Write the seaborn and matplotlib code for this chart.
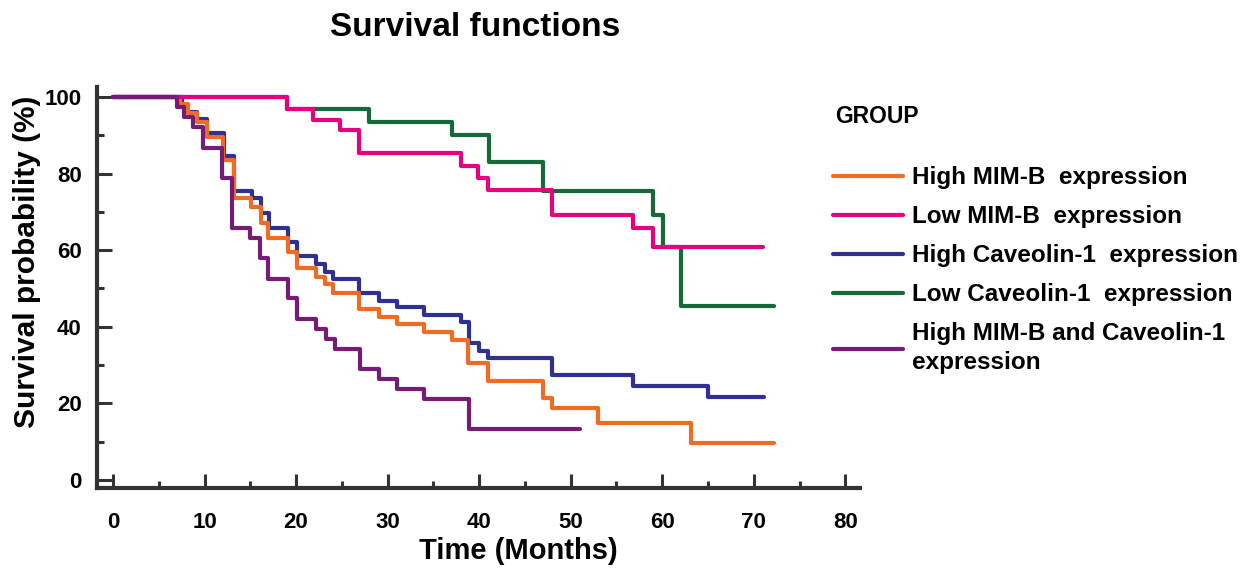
import pandas as pd
import matplotlib
matplotlib.use("Agg")
import matplotlib.pyplot as plt
import seaborn as sns
from matplotlib.ticker import MultipleLocator

# step points (time in months, survival in %)
high_mimb_t = [0, 7.3, 8.2, 9.2, 10.3, 12.0, 13.2, 15.1, 16.2, 16.9, 19.1, 20.1, 22.2, 23.2, 24.0,
               26.9, 29.1, 31.0, 34.0, 37.0, 38.8, 41.0, 47.0, 47.9, 53.0, 63.1, 72.2]
high_mimb_s = [100, 98.2, 95.8, 93.5, 89.6, 83.6, 73.6, 71.3, 67.1, 63.2, 59.5, 55.4, 53.0, 51.2, 48.8,
               44.6, 42.6, 40.7, 38.6, 36.6, 30.5, 25.9, 21.4, 18.8, 14.9, 9.7, 9.7]

low_mimb_t = [0, 19.0, 21.9, 24.8, 26.9, 38.0, 39.9, 41.0, 47.9, 56.8, 59.0, 71.0]
low_mimb_s = [100, 96.9, 94.0, 91.4, 85.4, 82.0, 78.9, 75.7, 69.2, 65.8, 60.8, 60.8]

high_cav_t = [0, 7.5, 8.1, 9.2, 10.3, 12.1, 13.2, 15.2, 16.2, 17.0, 19.1, 20.1, 22.2, 23.2, 24.0,
              26.9, 29.1, 31.0, 34.0, 38.0, 38.9, 40.0, 41.0, 47.9, 56.8, 65.0, 71.1]
high_cav_s = [100, 98.0, 96.0, 94.2, 90.6, 84.6, 75.5, 73.6, 69.7, 65.8, 62.1, 58.5, 56.4, 54.3, 52.5,
              48.8, 46.8, 45.2, 43.2, 41.2, 35.8, 33.7, 31.8, 27.4, 24.5, 21.7, 21.7]

low_cav_t = [0, 19.0, 28.0, 37.0, 41.1, 47.0, 59.0, 60.1, 62.1, 72.2]
low_cav_s = [100, 96.8, 93.4, 90.0, 82.9, 75.5, 69.2, 60.8, 45.4, 45.4]

both_t = [0, 7.0, 7.8, 8.7, 9.8, 11.9, 13.0, 15.0, 16.1, 16.9, 19.1, 20.1, 22.2, 23.3, 24.3,
          27.0, 29.1, 31.0, 34.0, 38.9, 51.0]
both_s = [100, 97.4, 94.7, 92.1, 86.8, 78.9, 65.8, 63.2, 57.9, 52.6, 47.4, 42.1, 39.5, 36.8, 34.2,
          28.9, 26.3, 23.7, 21.1, 13.2, 13.2]

groups = ["High MIM-B  expression", "Low MIM-B  expression", "High Caveolin-1  expression",
          "Low Caveolin-1  expression", "High MIM-B and Caveolin-1\nexpression"]
colors = ["#EF6C22", "#E6007E", "#2E3192", "#17693A", "#761C78"]

curves = [(high_mimb_t, high_mimb_s), (low_mimb_t, low_mimb_s), (high_cav_t, high_cav_s),
          (low_cav_t, low_cav_s), (both_t, both_s)]

rows = []
for g, (t, s) in zip(groups, curves):
    for a, b in zip(t, s):
        rows.append({"group": g, "time": a, "surv": b})
df = pd.DataFrame(rows)

sns.set_theme(style="white")
plt.rcParams["font.family"] = ["Liberation Sans", "DejaVu Sans"]
plt.rcParams["font.weight"] = "bold"
plt.rcParams["text.color"] = "black"
plt.rcParams["xtick.color"] = "black"
plt.rcParams["ytick.color"] = "black"
plt.rcParams["axes.labelcolor"] = "black"

fig = plt.figure(figsize=(12.5, 5.69), dpi=100)
ax = fig.add_axes([0.0776, 0.1424, 0.6104, 0.7046])

# draw order: green, blue, orange, pink, purple on top
zorders = {0: 4, 1: 5, 2: 3, 3: 2, 4: 6}
for i, g in enumerate(groups):
    sns.lineplot(data=df[df["group"] == g], x="time", y="surv", ax=ax, color=colors[i],
                 drawstyle="steps-post", estimator=None, linewidth=3.0, label=g,
                 zorder=zorders[i], legend=False)

ax.set_xlim(-1.75, 81.6)
ax.set_ylim(-2.1, 102.6)
ax.xaxis.set_major_locator(MultipleLocator(10))
ax.xaxis.set_minor_locator(MultipleLocator(5))
ax.yaxis.set_major_locator(MultipleLocator(20))
ax.yaxis.set_minor_locator(MultipleLocator(10))

for side in ["top", "right"]:
    ax.spines[side].set_visible(False)
for side in ["left", "bottom"]:
    ax.spines[side].set_color("#333333")
    ax.spines[side].set_linewidth(3)

ax.tick_params(axis="both", which="both", direction="in", color="#333333", width=2.2,
               bottom=True, left=True)
ax.tick_params(axis="y", which="major", length=11, pad=11, labelsize=16)
ax.tick_params(axis="y", which="minor", length=5)
ax.tick_params(axis="x", which="major", length=10, pad=17, labelsize=16)
ax.tick_params(axis="x", which="minor", length=5)
for lab in ax.get_xticklabels() + ax.get_yticklabels():
    lab.set_fontweight("bold")

ax.set_xlabel("")
ax.set_ylabel("")
fig.text(0.415, 0.032, "Time (Months)", ha="center", va="center", fontsize=21, fontweight="bold")
fig.text(0.022, 0.54, "Survival probability (%)", ha="center", va="center", rotation=90,
         fontsize=21.5, fontweight="bold")
fig.text(0.38, 0.952, "Survival functions", ha="center", va="center", fontsize=24, fontweight="bold")

handles, labels = ax.get_legend_handles_labels()
leg = fig.legend(handles, labels, loc="upper left", bbox_to_anchor=(0.666, 0.708),
                 frameon=False, fontsize=17.5, handlelength=2.9, handletextpad=0.38,
                 labelspacing=0.66, borderpad=0, borderaxespad=0)
for line in leg.get_lines():
    line.set_linewidth(3.0)
for txt in leg.get_texts():
    txt.set_linespacing(1.3)
fig.text(0.668, 0.795, "GROUP", ha="left", va="center", fontsize=16.5, fontweight="bold")

fig.savefig("out.png", dpi=100, facecolor="white")
